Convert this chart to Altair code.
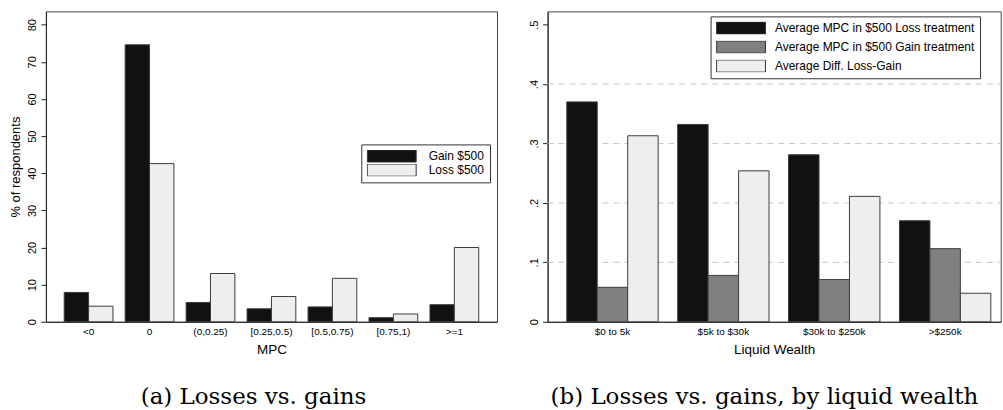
import altair as alt
import pandas as pd

# ---------------- data: panel (a) ----------------
mpc_cats = ["<0", "0", "(0,0.25)", "[0.25,0.5)", "[0.5,0.75)", "[0.75,1)", ">=1"]
gain_500 = [7.9, 74.6, 5.2, 3.5, 4.0, 1.1, 4.6]
loss_500 = [4.2, 42.6, 13.0, 6.8, 11.7, 2.1, 20.0]
left_series = ["Gain $500", "Loss $500"]
left_colors = ["#111111", "#eeeeee"]
left_yticks = [0, 10, 20, 30, 40, 50, 60, 70, 80]

# ---------------- data: panel (b) ----------------
wealth_cats = ["$0 to 5k", "$5k to $30k", "$30k to $250k", ">$250k"]
mpc_loss = [0.370, 0.332, 0.281, 0.170]
mpc_gain = [0.058, 0.078, 0.071, 0.123]
diff_loss_gain = [0.313, 0.254, 0.211, 0.048]
right_series = ["Average MPC in $500 Loss treatment",
                "Average MPC in $500 Gain treatment",
                "Average Diff. Loss-Gain"]
right_colors = ["#111111", "#808080", "#eeeeee"]
right_yticks = [0, 0.1, 0.2, 0.3, 0.4, 0.5]
right_grid = [0.1, 0.2, 0.3, 0.4]

df_a = pd.DataFrame(
    [{"mpc": c, "series": left_series[0], "pct": g} for c, g in zip(mpc_cats, gain_500)]
    + [{"mpc": c, "series": left_series[1], "pct": l} for c, l in zip(mpc_cats, loss_500)]
)
df_b = pd.DataFrame(
    [{"wealth": c, "series": right_series[0], "val": v} for c, v in zip(wealth_cats, mpc_loss)]
    + [{"wealth": c, "series": right_series[1], "val": v} for c, v in zip(wealth_cats, mpc_gain)]
    + [{"wealth": c, "series": right_series[2], "val": v} for c, v in zip(wealth_cats, diff_loss_gain)]
)
df_grid = pd.DataFrame({"val": right_grid})

SANS = "Liberation Sans"
SERIF = "DejaVu Serif"
RECT = "M-1,-0.25H1V0.25H-1Z"
RW, RH = 454, 311


def legend(x, y, row_pad, label_off):
    return alt.Legend(
        title=None, orient="none", legendX=x, legendY=y,
        fillColor="white", strokeColor="#333333", padding=5.5,
        symbolType=RECT, symbolSize=2401, symbolStrokeColor="#333333",
        symbolStrokeWidth=1, clipHeight=12.5, rowPadding=row_pad,
        labelFont=SANS, labelFontSize=12, labelColor="black",
        labelOffset=label_off, labelLimit=400,
    )


def x_axis():
    return alt.Axis(labelAngle=0, ticks=False, tickSize=0, labelFont=SANS,
                    labelFontSize=10, labelColor="black", labelPadding=5,
                    titleFont=SANS, titleFontSize=13.5, titleFontWeight="normal",
                    titleColor="black", titlePadding=6, domainColor="#222222")


def y_axis(values, **kw):
    return alt.Axis(values=values, labelAngle=270, labelAlign="center",
                    labelBaseline="bottom", labelPadding=3, tickSize=5,
                    labelFont=SANS, labelFontSize=11, labelColor="black",
                    domainColor="#222222", tickColor="#222222", grid=False,
                    titleFont=SANS, titleFontSize=13, titleFontWeight="normal",
                    titleColor="black", titlePadding=3, minExtent=20, maxExtent=20,
                    **kw)


left = alt.Chart(df_a).mark_bar(stroke="#3c3c3c", strokeWidth=1).encode(
    x=alt.X("mpc:N", sort=mpc_cats, title="MPC",
            scale=alt.Scale(paddingInner=0.2, paddingOuter=0.3),
            axis=x_axis()),
    xOffset=alt.XOffset("series:N", sort=left_series,
                        scale=alt.Scale(paddingInner=0, paddingOuter=0)),
    y=alt.Y("pct:Q", title="% of respondents",
            scale=alt.Scale(domain=[0, 83.6], nice=False, zero=True),
            axis=y_axis(left_yticks)),
    color=alt.Color("series:N", sort=left_series,
                    scale=alt.Scale(domain=left_series, range=left_colors),
                    legend=legend(316, 133.3, 1, 12)),
).properties(
    width=452, height=311,
    title=alt.TitleParams("(a) Losses vs. gains", orient="bottom", anchor="middle",
                          frame="bounds", font=SERIF, fontSize=23,
                          fontWeight="normal", color="black", offset=30),
)

y_right = alt.Y("val:Q", title=None,
                scale=alt.Scale(domain=[0, 0.5223], nice=False, zero=True),
                axis=y_axis(right_yticks,
                            labelExpr="datum.value == 0 ? '0' : '.' + format(datum.value * 10, 'd')"))

grid_b = alt.Chart(df_grid).mark_rule(color="#c8c8c8", strokeWidth=1, strokeDash=[6, 5]).encode(
    y=y_right, x=alt.value(0), x2=alt.value(RW),
)

bars_b = alt.Chart(df_b).mark_bar(stroke="#3c3c3c", strokeWidth=1).encode(
    x=alt.X("wealth:N", sort=wealth_cats, title="Liquid Wealth",
            scale=alt.Scale(paddingInner=0.176, paddingOuter=0.131, align=0.66),
            axis=x_axis()),
    xOffset=alt.XOffset("series:N", sort=right_series,
                        scale=alt.Scale(paddingInner=0, paddingOuter=0)),
    y=y_right,
    color=alt.Color("series:N", sort=right_series,
                    scale=alt.Scale(domain=right_series, range=right_colors),
                    legend=legend(163.3, 5, 6, 9)),
)

right = alt.layer(grid_b, bars_b).properties(
    width=RW, height=RH,
    title=alt.TitleParams("(b) Losses vs. gains, by liquid wealth", orient="bottom",
                          anchor="middle", frame="bounds", font=SERIF, fontSize=23,
                          fontWeight="normal", color="black", offset=30),
)

chart = alt.hconcat(left, right, spacing=50.7, bounds="flush").resolve_scale(
    color="independent", xOffset="independent", x="independent", y="independent"
).resolve_legend(color="independent").properties(
    padding={"left": 9, "top": 10, "right": 1, "bottom": 0},
    background="white",
).configure(font=SANS).configure_view(stroke="#444444", strokeWidth=1)

chart.save("out.html", embed_options={"renderer": "svg", "actions": False})
